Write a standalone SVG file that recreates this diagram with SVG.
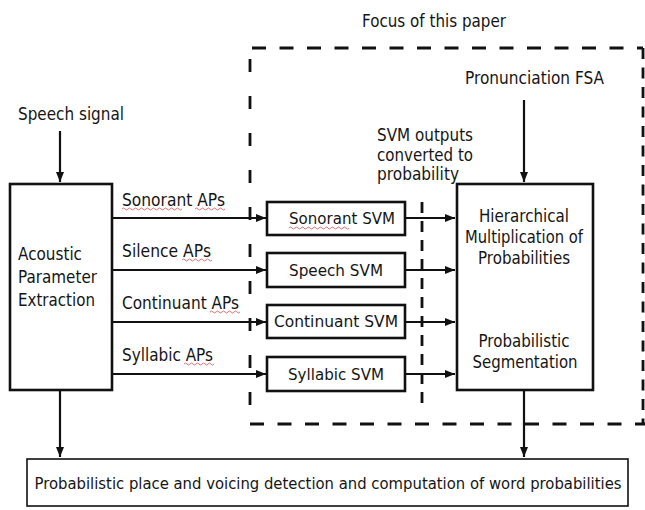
<svg xmlns="http://www.w3.org/2000/svg" width="645" height="510" viewBox="0 0 645 510">
<defs>
<marker id="ah" viewBox="0 0 10 8" refX="10" refY="4" markerWidth="10" markerHeight="8" markerUnits="userSpaceOnUse" orient="auto">
<path d="M0,0 L10,4 L0,8 Z" fill="#111"/>
</marker>
<style>
text{font-family:"DejaVu Sans",sans-serif;font-size:17px;fill:#151515;}
.s{font-size:16.5px;}
.b{font-size:15.2px;}
.box{fill:#fff;stroke:#111;stroke-width:2.6;}
.thin{fill:#fff;stroke:#111;stroke-width:1.6;}
.arr{fill:none;stroke:#111;stroke-width:2.2;marker-end:url(#ah);}
.dash{fill:none;stroke:#111;stroke-width:2.8;}
.sq{fill:none;stroke:#d05050;stroke-width:0.8;}
.c{text-anchor:middle;}
</style>
</defs>
<rect width="645" height="510" fill="#fff"/>

<g id="focus">
<text x="362" y="27" textLength="144" lengthAdjust="spacingAndGlyphs">Focus of this paper</text>
<path class="dash" d="M252,48 H643" stroke-dasharray="14 13.5"/>
<path class="dash" d="M250,59 V424" stroke-dasharray="13 24"/>
<path class="dash" d="M643,48 V424" stroke-dasharray="11 8.5"/>
<path class="dash" d="M250,424 H645" stroke-dasharray="14 13.5"/>
<path class="dash" d="M422,202 V407" stroke-dasharray="11 8"/>
</g>

<g id="connectors">
<path class="arr" d="M60,131 V182"/>
<path class="arr" d="M524,100 V182"/>
<path class="arr" d="M112,218 H266"/>
<path class="arr" d="M112,270 H266"/>
<path class="arr" d="M112,322 H266"/>
<path class="arr" d="M112,374 H266"/>
<path class="arr" d="M405,218 H455"/>
<path class="arr" d="M405,270 H455"/>
<path class="arr" d="M405,322 H455"/>
<path class="arr" d="M405,374 H455"/>
<path class="arr" d="M524,291 V319"/>
<path class="arr" d="M60,390 V457"/>
<path class="arr" d="M524,390 V457"/>
</g>

<g id="speech_signal">
<text x="18" y="120" textLength="106" lengthAdjust="spacingAndGlyphs">Speech signal</text>
</g>

<g id="pronunciation_fsa">
<text x="465" y="84" textLength="139" lengthAdjust="spacingAndGlyphs">Pronunciation FSA</text>
</g>

<g id="svm_outputs_note">
<text x="377" y="141" textLength="96" lengthAdjust="spacingAndGlyphs">SVM outputs</text>
<text x="377" y="161" textLength="96" lengthAdjust="spacingAndGlyphs">converted to</text>
<text x="377" y="180" textLength="82" lengthAdjust="spacingAndGlyphs">probability</text>
</g>

<g id="acoustic">
<rect class="box" x="10" y="184" width="102" height="206"/>
<text x="18" y="260" textLength="64" lengthAdjust="spacingAndGlyphs">Acoustic</text>
<text x="18" y="283" textLength="79" lengthAdjust="spacingAndGlyphs">Parameter</text>
<text x="18" y="306" textLength="77" lengthAdjust="spacingAndGlyphs">Extraction</text>
</g>

<g id="ap_labels">
<text x="122" y="206" textLength="103" lengthAdjust="spacingAndGlyphs">Sonorant APs</text>
<text x="122" y="257" textLength="89" lengthAdjust="spacingAndGlyphs">Silence APs</text>
<text x="122" y="309" textLength="117" lengthAdjust="spacingAndGlyphs">Continuant APs</text>
<text x="122" y="361" textLength="91" lengthAdjust="spacingAndGlyphs">Syllabic APs</text>
<path class="sq" d="M122,209 q1.5,-2 3,0 t3,0 t3,0 t3,0 t3,0 t3,0 t3,0 t3,0 t3,0 t3,0 t3,0 t3,0 t3,0 t3,0 t3,0 t3,0 t3,0 t3,0 t3,0 t3,0"/>
<path class="sq" d="M195,209 q1.5,-2 3,0 t3,0 t3,0 t3,0 t3,0 t3,0 t3,0 t3,0 t3,0 t3,0"/>
<path class="sq" d="M182,260 q1.5,-2 3,0 t3,0 t3,0 t3,0 t3,0 t3,0 t3,0 t3,0 t3,0 t3,0"/>
<path class="sq" d="M210,312 q1.5,-2 3,0 t3,0 t3,0 t3,0 t3,0 t3,0 t3,0 t3,0 t3,0 t3,0"/>
<path class="sq" d="M184,364 q1.5,-2 3,0 t3,0 t3,0 t3,0 t3,0 t3,0 t3,0 t3,0 t3,0 t3,0"/>
</g>

<g id="sonorant_svm">
<rect class="box" x="267" y="202" width="138" height="33"/>
<text class="s" x="289" y="224" textLength="106" lengthAdjust="spacingAndGlyphs">Sonorant SVM</text>
<path class="sq" d="M289,228 q1.5,-2 3,0 t3,0 t3,0 t3,0 t3,0 t3,0 t3,0 t3,0 t3,0 t3,0 t3,0 t3,0 t3,0 t3,0 t3,0 t3,0 t3,0 t3,0 t3,0 t3,0"/>
</g>

<g id="speech_svm">
<rect class="box" x="267" y="253" width="138" height="34"/>
<text class="s c" x="336" y="276" textLength="94" lengthAdjust="spacingAndGlyphs">Speech SVM</text>
</g>

<g id="continuant_svm">
<rect class="box" x="267" y="305" width="138" height="33"/>
<text class="s c" x="336" y="327" textLength="124" lengthAdjust="spacingAndGlyphs">Continuant SVM</text>
</g>

<g id="syllabic_svm">
<rect class="box" x="267" y="357" width="138" height="34"/>
<text class="s c" x="336" y="380" textLength="96" lengthAdjust="spacingAndGlyphs">Syllabic SVM</text>
</g>

<g id="hierarchical">
<rect class="box" x="457" y="184" width="136" height="206"/>
<text class="c" x="524" y="222" textLength="90" lengthAdjust="spacingAndGlyphs">Hierarchical</text>
<text class="c" x="524" y="243" textLength="118" lengthAdjust="spacingAndGlyphs">Multiplication of</text>
<text class="c" x="524" y="264" textLength="92" lengthAdjust="spacingAndGlyphs">Probabilities</text>
<text class="c" x="524" y="347" textLength="91" lengthAdjust="spacingAndGlyphs">Probabilistic</text>
<text class="c" x="525" y="368" textLength="105" lengthAdjust="spacingAndGlyphs">Segmentation</text>
</g>

<g id="word_probabilities">
<rect class="thin" x="27" y="459" width="601" height="47"/>
<text class="b c" x="328" y="489" textLength="587" lengthAdjust="spacingAndGlyphs">Probabilistic place and voicing detection and computation of word probabilities</text>
</g>
</svg>
